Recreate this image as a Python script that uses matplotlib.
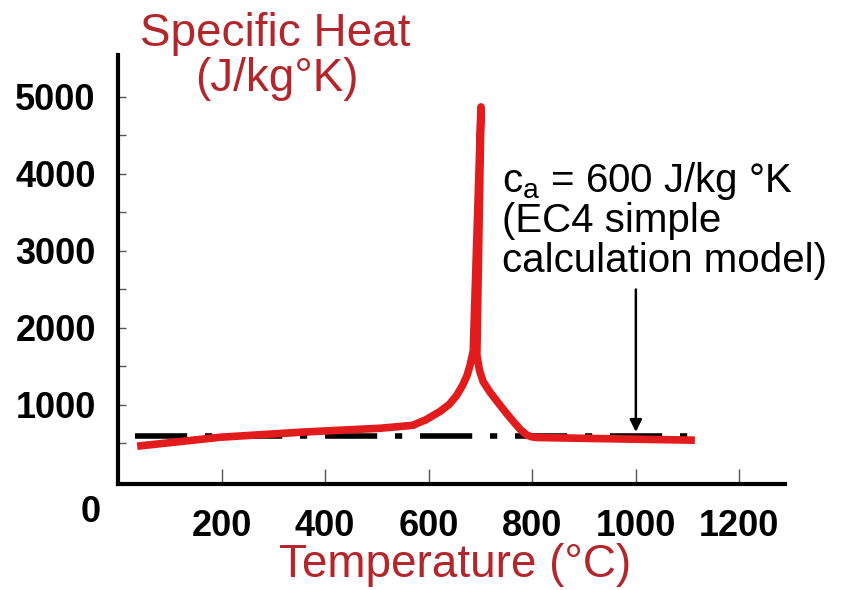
import matplotlib
matplotlib.use('Agg')
import matplotlib.pyplot as plt

plt.rcParams['font.family'] = ['Liberation Sans', 'DejaVu Sans']
plt.rcParams['mathtext.default'] = 'regular'

# specific heat of steel vs temperature
temp = [37, 197, 351, 506, 569, 595, 622, 640, 654, 665, 674, 680, 686,
        701,
        693, 698, 705, 718, 732, 748, 763, 777, 790, 800, 809, 892, 1114]
cp = [465, 581, 646, 698, 736, 810, 917, 1010, 1124, 1250, 1382, 1520, 1700,
      4871,
      1650, 1450, 1305, 1170, 1047, 910, 788, 680, 607, 585, 578, 568, 543]

# constant value used by the EC4 simple model
ec4_temp = [33, 1114]
ec4_cp = 600
arrow_temp = 1000

xticks = [200, 400, 600, 800, 1000, 1200]
yticks = [1000, 2000, 3000, 4000, 5000]
yminor = [500, 1500, 2500, 3500, 4500]

curve_red = '#e21c1c'
text_red = '#b3262b'

fig = plt.figure(figsize=(8.5, 5.9), dpi=100)
ax = fig.add_axes([118 / 850, 1 - 484 / 590, (785 - 118) / 850, (484 - 55) / 590])

ax.plot(ec4_temp, [ec4_cp] * len(ec4_temp), color='black', lw=4,
        linestyle=(0, (9.4, 3.2, 1.3, 3.2)), dash_capstyle='butt', zorder=2)
ax.plot(temp, cp, color=curve_red, lw=5.5, solid_joinstyle='round',
        solid_capstyle='butt', zorder=3)

ax.annotate('', xy=(arrow_temp, 650), xytext=(arrow_temp, 2500),
            arrowprops=dict(arrowstyle='-|>', color='black', lw=1.8,
                            mutation_scale=18, shrinkA=0, shrinkB=0))

ax.set_xlim(0, 1288)
ax.set_ylim(-26, 5545)
ax.spines['top'].set_visible(False)
ax.spines['right'].set_visible(False)
for side in ['left', 'bottom']:
    ax.spines[side].set_linewidth(3)
    ax.spines[side].set_capstyle('projecting')

ax.set_xticks(xticks)
ax.set_yticks(yticks)
ax.set_yticks(yminor, minor=True)
ax.tick_params(axis='x', direction='in', length=11, width=1, color='#555555',
               pad=18, labelsize=26)
ax.tick_params(axis='y', which='both', direction='in', length=6, width=1,
               color='#555555', pad=16, labelsize=26)
for lab in ax.get_xticklabels() + ax.get_yticklabels():
    lab.set_fontweight('bold')

# origin label sits below and left of the corner
ax.annotate('0', xy=(0, 0), xycoords='axes fraction', xytext=(-20, -27),
            textcoords='offset points', ha='center', va='baseline',
            fontsize=26, fontweight='bold')

fig.text(275 / 850, 1 - 46 / 590, 'Specific Heat', ha='center', va='baseline',
         fontsize=33, color=text_red)
fig.text(277 / 850, 1 - 91 / 590, '(J/kg°K)', ha='center', va='baseline',
         fontsize=33, color=text_red)
fig.text(455 / 850, 13 / 590, 'Temperature (°C)', ha='center', va='baseline',
         fontsize=33, color=text_red)

notes = ['c$_{a}$ = 600 J/kg °K', '(EC4 simple', 'calculation model)']
for i, line in enumerate(notes):
    fig.text(502 / 850, 1 - (192 + 40 * i) / 590, line, ha='left', va='baseline',
             fontsize=29, color='black')

fig.savefig('out.png', dpi=100, facecolor='white')
